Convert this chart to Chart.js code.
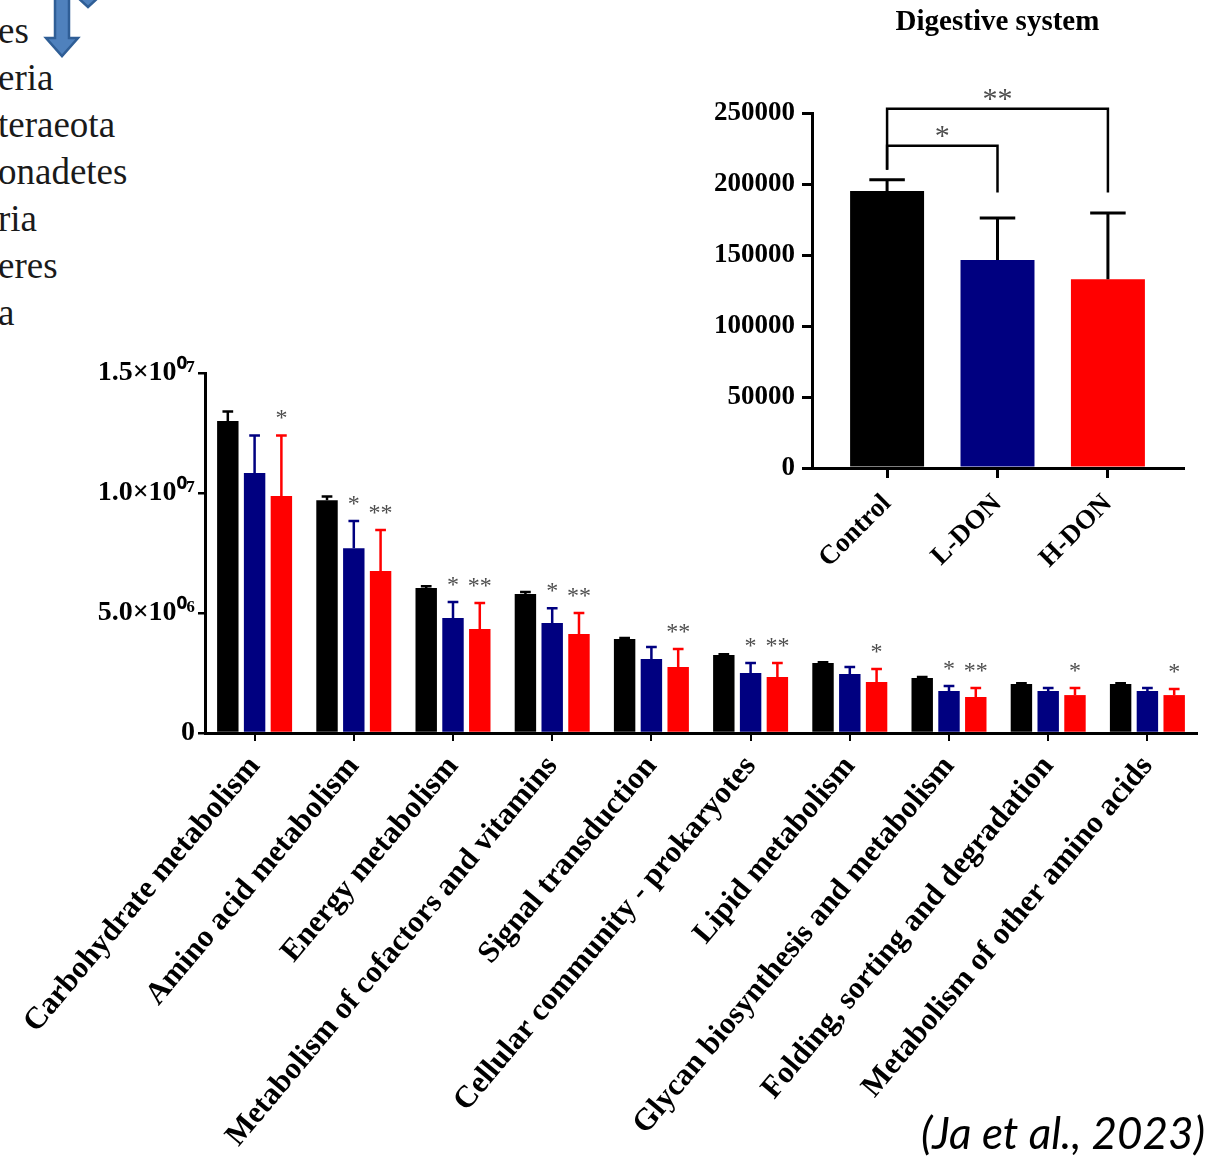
<!DOCTYPE html>
<html>
<head>
<meta charset="utf-8">
<script src="https://cdn.jsdelivr.net/npm/chart.js@4.4.0/dist/chart.umd.min.js"></script>
<style>
  html, body { margin: 0; padding: 0; background: #fff; }
  body { width: 1209px; height: 1163px; position: relative; overflow: hidden; }
  #mainChart { position: absolute; left: 0; top: 340px; }
  #insetChart { position: absolute; left: 680px; top: 0; }
  #legendBits {
    position: absolute; left: -2px; top: 7px;
    font: 37px/47px 'Liberation Serif', 'Times New Roman', serif;
    color: #1a1a1a;
  }
  #arrows { position: absolute; left: 0; top: 0; }
  #cite {
    position: absolute; right: 4px; top: 1110px;
    font: italic 44px/44px Lato, 'Open Sans', sans-serif; color: #000;
  }
</style>
</head>
<body>
<div id="legendBits">es<br>eria<br>teraeota<br>onadetes<br>ria<br>eres<br>a</div>
<svg id="arrows" width="120" height="70">
  <path d="M55,-4 L69,-4 L69,38 L78,38 L62,56 L46,38 L55,38 Z" fill="#4f81bd" stroke="#2f5e96" stroke-width="2.5"/>
  <path d="M76,-4 L100,-4 L88,7 Z" fill="#4f81bd" stroke="#2f5e96" stroke-width="2.5"/>
</svg>
<canvas id="mainChart" width="1209" height="823"></canvas>
<canvas id="insetChart" width="529" height="620"></canvas>
<div id="cite">(Ja et al., 2023)</div>
<script>
// main panel: KEGG level-2 pathways
const pathways = ['Carbohydrate metabolism', 'Amino acid metabolism', 'Energy metabolism',
  'Metabolism of cofactors and vitamins', 'Signal transduction', 'Cellular community - prokaryotes',
  'Lipid metabolism', 'Glycan biosynthesis and metabolism', 'Folding, sorting and degradation',
  'Metabolism of other amino acids'];
const controlMean = [13.0e6, 9.7e6, 6.04e6, 5.79e6, 3.92e6, 3.25e6, 2.92e6, 2.29e6, 2.04e6, 2.04e6];
const controlSem = [0.4e6, 0.15e6, 0.07e6, 0.08e6, 0.04e6, 0.03e6, 0.03e6, 0.04e6, 0.03e6, 0.03e6];
const lowMean = [10.83e6, 7.7e6, 4.79e6, 4.58e6, 3.08e6, 2.5e6, 2.46e6, 1.75e6, 1.75e6, 1.75e6];
const lowSem = [1.57e6, 1.13e6, 0.67e6, 0.62e6, 0.5e6, 0.42e6, 0.29e6, 0.21e6, 0.13e6, 0.13e6];
const highMean = [9.88e6, 6.75e6, 4.33e6, 4.13e6, 2.75e6, 2.33e6, 2.13e6, 1.5e6, 1.58e6, 1.58e6];
const highSem = [2.52e6, 1.71e6, 1.09e6, 0.87e6, 0.75e6, 0.59e6, 0.54e6, 0.38e6, 0.3e6, 0.25e6];
const lowStars = ['', '*', '*', '*', '', '*', '', '*', '', ''];
const highStars = ['*', '**', '**', '**', '**', '**', '*', '**', '*', '*'];
const mainTicks = [0, 5e6, 1e7, 1.5e7];

// inset: digestive system
const groups = ['Control', 'L-DON', 'H-DON'];
const digestMean = [195000, 146500, 133000];
const digestSem = [8000, 29500, 46600];
const digestTicks = [0, 50000, 100000, 150000, 200000, 250000];
const comparisons = [
  { from: 0, to: 2, level: 253000, leftEnd: 210000, rightEnd: 194000, mark: '**' },
  { from: 0, to: 1, level: 227000, leftEnd: 210000, rightEnd: 194000, mark: '*' }
];

const serif = "'Liberation Serif', 'Times New Roman', serif";
const BLACK = '#000000', NAVY = '#000080', RED = '#ff0000';

Chart.defaults.font.family = serif;
Chart.defaults.color = '#000';

const sup = { '0': '\u2070', '1': '\u00b9', '2': '\u00b2', '3': '\u00b3', '4': '\u2074',
  '5': '\u2075', '6': '\u2076', '7': '\u2077', '8': '\u2078', '9': '\u2079' };

function sciLabel(v) {
  if (v === 0) return '0';
  const exp = Math.floor(Math.log10(v));
  const mant = (v / Math.pow(10, exp)).toFixed(1);
  const e = String(exp).padStart(2, '0').split('').map(d => sup[d]).join('');
  return mant + '\u00d710' + e;
}

// one-sided error bars + significance marks
const errorBars = {
  id: 'errorBars',
  afterDatasetsDraw(chart, args, opts) {
    const ctx = chart.ctx;
    const y = chart.scales.y;
    ctx.save();
    chart.data.datasets.forEach((ds, di) => {
      const meta = chart.getDatasetMeta(di);
      meta.data.forEach((bar, i) => {
        const v = meta.controller.getParsed(i).y;
        const top = y.getPixelForValue(v + ds.sem[i]);
        const half = bar.width * opts.cap / 2;
        ctx.strokeStyle = ds.backgroundColor;
        ctx.lineWidth = opts.width;
        ctx.beginPath();
        ctx.moveTo(bar.x, bar.y);
        ctx.lineTo(bar.x, top);
        ctx.moveTo(bar.x - half, top);
        ctx.lineTo(bar.x + half, top);
        ctx.stroke();
        const mark = ds.stars ? ds.stars[i] : '';
        if (mark) {
          ctx.fillStyle = '#4d4d4d';
          ctx.font = opts.starFont;
          ctx.textAlign = 'center';
          ctx.textBaseline = 'alphabetic';
          ctx.fillText(mark, bar.x, top - opts.starGap);
        }
      });
    });
    ctx.restore();
  }
};

const brackets = {
  id: 'brackets',
  afterDraw(chart) {
    const { ctx, scales: { x, y } } = chart;
    ctx.save();
    ctx.strokeStyle = '#000';
    ctx.lineWidth = 2.5;
    comparisons.forEach(c => {
      const x0 = x.getPixelForValue(c.from);
      const x1 = x.getPixelForValue(c.to);
      const yl = y.getPixelForValue(c.level);
      ctx.beginPath();
      ctx.moveTo(x0, y.getPixelForValue(c.leftEnd));
      ctx.lineTo(x0, yl);
      ctx.lineTo(x1, yl);
      ctx.lineTo(x1, y.getPixelForValue(c.rightEnd));
      ctx.stroke();
      ctx.fillStyle = '#4d4d4d';
      ctx.font = '30px ' + serif;
      ctx.textAlign = 'center';
      ctx.textBaseline = 'alphabetic';
      ctx.fillText(c.mark, (x0 + x1) / 2, yl - 1);
    });
    ctx.restore();
  }
};

new Chart(document.getElementById('mainChart'), {
  type: 'bar',
  data: {
    labels: pathways,
    datasets: [
      { label: 'Control', data: controlMean, sem: controlSem, backgroundColor: BLACK },
      { label: 'L-DON', data: lowMean, sem: lowSem, stars: lowStars, backgroundColor: NAVY },
      { label: 'H-DON', data: highMean, sem: highSem, stars: highStars, backgroundColor: RED }
    ]
  },
  plugins: [errorBars],
  options: {
    responsive: false,
    animation: false,
    layout: { padding: { top: 33, right: 12, left: 0, bottom: 0 } },
    datasets: { bar: { categoryPercentage: 0.81, barPercentage: 0.8 } },
    plugins: {
      legend: { display: false },
      tooltip: { enabled: false },
      errorBars: { cap: 0.5, width: 2.5, starFont: '24px ' + serif, starGap: 10 }
    },
    scales: {
      x: {
        grid: { display: true, offset: false, drawOnChartArea: false, drawTicks: true, tickLength: 8, color: '#000', lineWidth: 2 },
        border: { display: true, color: '#000', width: 3 },
        ticks: { autoSkip: false, minRotation: 50, maxRotation: 50, padding: 8, font: { size: 31, weight: 'bold' } },
        afterFit: s => { s.height = 430; }
      },
      y: {
        min: 0,
        max: 1.5e7,
        grid: { display: true, drawOnChartArea: false, drawTicks: true, tickLength: 7, color: '#000', lineWidth: 2.5 },
        border: { display: true, color: '#000', width: 3 },
        afterBuildTicks: s => { s.ticks = mainTicks.map(v => ({ value: v })); },
        ticks: { padding: 3, font: { size: 28, weight: 'bold' }, callback: v => sciLabel(v) },
        afterFit: s => { s.width = 205; }
      }
    }
  }
});

new Chart(document.getElementById('insetChart'), {
  type: 'bar',
  data: {
    datasets: [{
      label: 'Digestive system',
      data: digestMean.map((v, i) => ({ x: i, y: v })),
      sem: digestSem,
      backgroundColor: [BLACK, NAVY, RED]
    }]
  },
  plugins: [errorBars, brackets],
  options: {
    responsive: false,
    animation: false,
    layout: { padding: { top: 0, right: 26, left: 0, bottom: 0 } },
    datasets: { bar: { categoryPercentage: 1, barPercentage: 0.67 } },
    plugins: {
      legend: { display: false },
      tooltip: { enabled: false },
      title: {
        display: true,
        text: 'Digestive system',
        fullSize: false,
        color: '#000',
        font: { size: 29, weight: 'bold' },
        padding: { top: 5, bottom: 73.2 }
      },
      errorBars: { cap: 0.48, width: 3, starFont: '24px ' + serif, starGap: 10 }
    },
    scales: {
      x: {
        type: 'linear',
        min: -0.68,
        max: 2.68,
        offset: false,
        grid: { display: true, offset: false, drawOnChartArea: false, drawTicks: true, tickLength: 10, color: '#000', lineWidth: 3 },
        border: { display: true, color: '#000', width: 3 },
        afterBuildTicks: s => { s.ticks = groups.map((g, i) => ({ value: i })); },
        ticks: { autoSkip: false, minRotation: 45, maxRotation: 45, padding: 10, font: { size: 27, weight: 'bold' }, callback: v => groups[v] },
        afterFit: s => { s.height = 152; }
      },
      y: {
        min: 0,
        max: 250000,
        grid: { display: true, drawOnChartArea: false, drawTicks: true, tickLength: 10, color: '#000', lineWidth: 3 },
        border: { display: true, color: '#000', width: 3 },
        afterBuildTicks: s => { s.ticks = digestTicks.map(v => ({ value: v })); },
        ticks: { padding: 7, font: { size: 27, weight: 'bold' }, callback: v => String(v) },
        afterFit: s => { s.width = 132; }
      }
    }
  }
});
</script>
</body>
</html>
